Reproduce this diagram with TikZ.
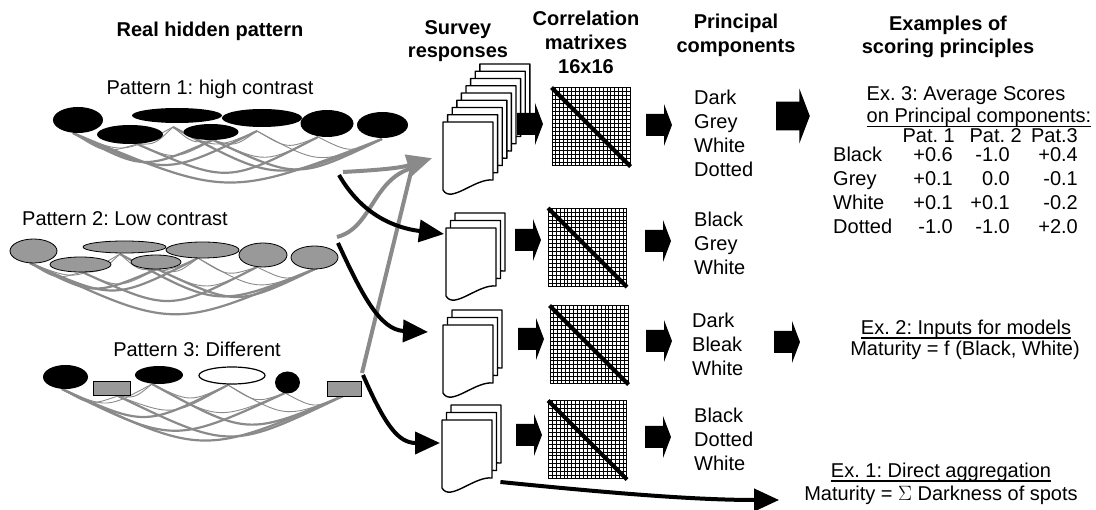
\documentclass[tikz,border=0pt]{standalone}
\usepackage{fontspec}
\setmainfont{Liberation Sans}
\frenchspacing
\usetikzlibrary{calc,arrows.meta}
\definecolor{netgrey}{HTML}{8A8A8A}
\definecolor{spotgrey}{HTML}{999999}
\tikzset{
  hdr/.style={font=\bfseries\fontsize{20}{24}\selectfont,inner sep=0pt,anchor=base},
  txt/.style={font=\fontsize{20}{24}\selectfont,inner sep=0pt},
  pcw/.style={txt,anchor=base west},
  num/.style={txt,anchor=base east},
  uline/.style={line width=1.3pt},
  strand/.style={draw=netgrey,line width=0.9pt},   % thin thread of the net
  cord/.style={draw=netgrey,line width=2.2pt},     % thick thread of the net
  spotk/.style={fill=black},
  spotg/.style={fill=spotgrey,draw=black,line width=0.8pt},
  spotw/.style={fill=white,draw=black,line width=1.2pt},
  sheet/.style={fill=white,draw=black,line width=1.4pt,line join=round},
  corrmat/.style={draw=black,line width=1pt,minimum width=78pt,minimum height=78pt,inner sep=0pt},
  stackbox/.style={inner sep=0pt,minimum width=50pt,minimum height=70pt,anchor=north west},
  gridln/.style={line width=0.6pt},
  diag/.style={line width=4pt},
  feed/.style={line width=4pt,-{Triangle[length=25pt,width=22pt]}},
  greyline/.style={line width=4pt,draw=netgrey},
  greyfeed/.style={feed,draw=netgrey},
  pics/page/.style={code={
    \draw[sheet] (0,0) -- (50,0) -- (50,58) .. controls (32,56) and (8,82) .. (0,68) -- cycle;}},
  pics/fat/.style={code={
    \fill (0,-11) -- (18,-11) -- (18,-21) -- (26,0) -- (18,21) -- (18,11) -- (0,11) -- cycle;}},
}

\begin{document}
\begin{tikzpicture}[x=1pt,y=-1pt]
  \useasboundingbox (0,0) rectangle (1096,510);

  % column headings
  \node[hdr] (hreal) at (210,37) {Real hidden pattern};
  \node[hdr] (hsur1) at (458,35) {Survey};
  \node[hdr] (hsur2) at (458,58) {responses};
  \node[hdr] (hcor1) at (586,26) {Correlation};
  \node[hdr] (hcor2) at (586,50) {matrixes};
  \node[hdr] (hcor3) at (586,74) {16x16};
  \node[hdr] (hpc1) at (736,29) {Principal};
  \node[hdr] (hpc2) at (736,53) {components};
  \node[hdr] (hex1) at (948,31) {Examples of};
  \node[hdr] (hex2) at (948,54) {scoring principles};

  % ---- hidden patterns: spots hanging on a net ----
  \node[txt,anchor=base] (lab1) at (210,95) {Pattern 1: high contrast};
  \node[txt,anchor=base] (lab2) at (125,226) {Pattern 2: Low contrast};
  \node[txt,anchor=base] (lab3) at (197,357) {Pattern 3: Different};

  \foreach \x/\y [count=\i] in {73/133,137/144,173/127,213/140,257/131,318/137,382/139}
    \coordinate (a\i) at (\x,\y);
  \foreach \x/\y [count=\i] in {30/263,82/272,120/254,157/269,198/258,257/267,317/268}
    \coordinate (b\i) at (\x,\y);
  \foreach \x/\y [count=\i] in {62/389,118/396,152/384,228/385,285/393,343/396}
    \coordinate (c\i) at (\x,\y);

  \foreach \s/\t/\d in {1/2/15,2/3/9,3/4/10,4/5/11,5/6/15,6/7/15,1/3/24,2/4/18,3/5/20,4/6/25,5/7/30}
    \draw[strand] (a\s) .. controls ($(a\s)!.5!(a\t)+(0,\d)$) .. (a\t);
  \foreach \s/\t/\d in {1/7/62,1/5/44,3/7/50,2/6/43,1/4/34,4/7/40}
    \draw[cord] (a\s) .. controls ($(a\s)!.5!(a\t)+(0,\d)$) .. (a\t);

  \foreach \s/\t/\d in {1/2/12,2/3/9,3/4/9,4/5/10,5/6/14,6/7/14,1/3/22,2/4/18,3/5/19,4/6/24,5/7/29}
    \draw[strand] (b\s) .. controls ($(b\s)!.5!(b\t)+(0,\d)$) .. (b\t);
  \foreach \s/\t/\d in {1/7/65,1/5/40,3/7/47,2/6/42,1/4/30,4/7/38}
    \draw[cord] (b\s) .. controls ($(b\s)!.5!(b\t)+(0,\d)$) .. (b\t);

  \foreach \s/\t/\d in {1/2/13,2/3/8,3/4/18,4/5/14,5/6/14,1/3/22,2/4/26,3/5/32,4/6/28}
    \draw[strand] (c\s) .. controls ($(c\s)!.5!(c\t)+(0,\d)$) .. (c\t);
  \foreach \s/\t/\d in {1/6/64,1/5/53,2/6/54,3/6/46,1/4/40}
    \draw[cord] (c\s) .. controls ($(c\s)!.5!(c\t)+(0,\d)$) .. (c\t);

  % pattern 1: all black
  \foreach \x/\y/\rx/\ry in {78/120/25/13,177/115.5/45/7.5,262/118/40/9,327/123.5/26.5/13.5,
      382.5/125/25.5/13,130/134.5/33/9.5,211/132/27.5/8}
    \fill[spotk] (\x,\y) ellipse [x radius=\rx,y radius=\ry];
  % pattern 2: all grey, upper row first
  \foreach \x/\y/\rx/\ry in {33.5/251/23.5/12,124.5/247/41.5/6,202.5/250/36.5/8,263/255/24/12,
      314.5/257.5/23.5/11.5,80.5/264.5/30.5/7.5,156/262/25/7}
    \draw[spotg] (\x,\y) ellipse [x radius=\rx,y radius=\ry];
  % pattern 3: mixed shapes
  \fill[spotk] (65.5,377) ellipse [x radius=22.5,y radius=12];
  \draw[spotg] (93,381) rectangle (130,395);
  \fill[spotk] (159,375) ellipse [x radius=24,y radius=9];
  \draw[spotw] (232,375.5) ellipse [x radius=33,y radius=8.5];
  \fill[spotk] (287.5,382.5) ellipse [x radius=12.5,y radius=11];
  \draw[spotg] (327,381) rectangle (361,396);

  % ---- survey response stacks ----
  \foreach \k in {8,7,...,0}
    \pic at ($(443,122)+(4.6*\k,-7.25*\k)$) {page};
  \foreach \px/\py in {446/228,443/325,442/420}
    \foreach \k in {2,1,0}
      \pic at ($(\px,\py)+(4.5*\k,-7.5*\k)$) {page};
  \node[stackbox] (st1) at (443,122) {};
  \node[stackbox] (st2) at (446,228) {};
  \node[stackbox] (st3) at (443,325) {};
  \node[stackbox] (st4) at (442,420) {};

  % ---- correlation matrices ----
  \foreach \n/\x/\y in {1/591/127,2/587.5/247.5,3/589/345,4/587.5/440}{
    \node[corrmat] (m\n) at (\x,\y) {};
    \foreach \k in {1,...,19}{
      \draw[gridln] ($(m\n.north west)!\k/20!(m\n.north east)$) -- ($(m\n.south west)!\k/20!(m\n.south east)$);
      \draw[gridln] ($(m\n.north west)!\k/20!(m\n.south west)$) -- ($(m\n.north east)!\k/20!(m\n.south east)$);
    }
    \draw[diag] (m\n.north west) -- (m\n.south east);
  }

  % block arrows between the columns
  \foreach \x/\y in {517/124,515/240,518/339,516/435,646/125,645/241,646/341,645/437,774/342}
    \pic at (\x,\y) {fat};
  \pic[scale=1.3] at (776,116) {fat};

  % ---- principal components ----
  \foreach \w [count=\i] in {Dark,Grey,White,Dotted}
    \node[pcw] (pa\i) at (694,81+24*\i) {\w};
  \foreach \w [count=\i] in {Black,Grey,White}
    \node[pcw] (pb\i) at (694,203+24*\i) {\w};
  \foreach \w [count=\i] in {Dark,Bleak,White}
    \node[pcw] (pc\i) at (692,304+24*\i) {\w};
  \foreach \w [count=\i] in {Black,Dotted,White}
    \node[pcw] (pd\i) at (694,399+24*\i) {\w};

  % ---- scoring examples ----
  \node[txt,anchor=base] (ex3a) at (966,101) {Ex. 3: Average Scores};
  \node[txt,anchor=base] (ex3b) at (979,123) {on Principal components:};
  \draw[uline] ([yshift=-3.5pt]ex3b.base west) -- ([yshift=-3.5pt]ex3b.base east);
  \node[num] (pat1) at (955,143) {Pat. 1};
  \node[num] (pat2) at (1022,143) {Pat. 2};
  \node[num] (pat3) at (1078,143) {Pat.3};
  \foreach \r/\a/\b/\c [count=\i] in {Black/+0.6/-1.0/+0.4,Grey/+0.1/0.0/-0.1,
      White/+0.1/+0.1/-0.2,Dotted/-1.0/-1.0/+2.0}{
    \node[pcw] (r\i) at (833,138+24*\i) {\r};
    \node[num] (v\i-1) at (953,138+24*\i) {\a};
    \node[num] (v\i-2) at (1010,138+24*\i) {\b};
    \node[num] (v\i-3) at (1078,138+24*\i) {\c};
  }

  \node[txt,anchor=base] (ex2a) at (966,335) {Ex. 2: Inputs for models};
  \draw[uline] ([yshift=-3pt]ex2a.base west) -- ([yshift=-3pt]ex2a.base east);
  \node[txt,anchor=base] (ex2b) at (965,356) {Maturity = f (Black, White)};

  \node[txt,anchor=base] (ex1a) at (941,478) {Ex. 1: Direct aggregation};
  \draw[uline] ([yshift=-3pt]ex1a.base west) -- ([yshift=-3pt]ex1a.base east);
  \node[txt,anchor=base] (ex1b) at (941,501) {Maturity = $\Sigma$ Darkness of spots};

  % ---- flows from the patterns into the surveys ----
  \coordinate (o1) at (339,175);
  \coordinate (o1g) at (343,172);
  \coordinate (o2) at (338,243);
  \coordinate (o2g) at (337,237);
  \coordinate (o3) at (363,375);
  \coordinate (o3g) at (362,373);
  \coordinate (tg) at ($(st1.west)+(-11,1)$);
  \coordinate (tj) at (412,168);
  \coordinate (t2) at ($(st2.north west)+(-2,6)$);
  \coordinate (t3) at ($(st3.north west)+(-15,7)$);
  \coordinate (t4) at ($(st4.north west)+(-2,23)$);
  \coordinate (o4) at ($(st4.north east)+(8,62)$);
  \coordinate (t5) at ($(ex1b.base west)+(-25,-1)$);

  \draw[greyline] (o2g) .. controls (372,228) and (372,180) .. (tj);
  \draw[greyline] (o3g) -- (tj);
  \draw[greyfeed] (o1g) .. controls (380,170) and (400,168) .. (tg);

  \draw[feed] (o1) .. controls (362,215) and (395,228) .. (t2);
  \draw[feed] (o2) .. controls (362,295) and (380,330) .. (t3);
  \draw[feed] (o3) .. controls (385,425) and (398,443) .. (t4);
  \draw[feed] (o4) .. controls (600,492) and (690,500) .. (t5);
\end{tikzpicture}
\end{document}
